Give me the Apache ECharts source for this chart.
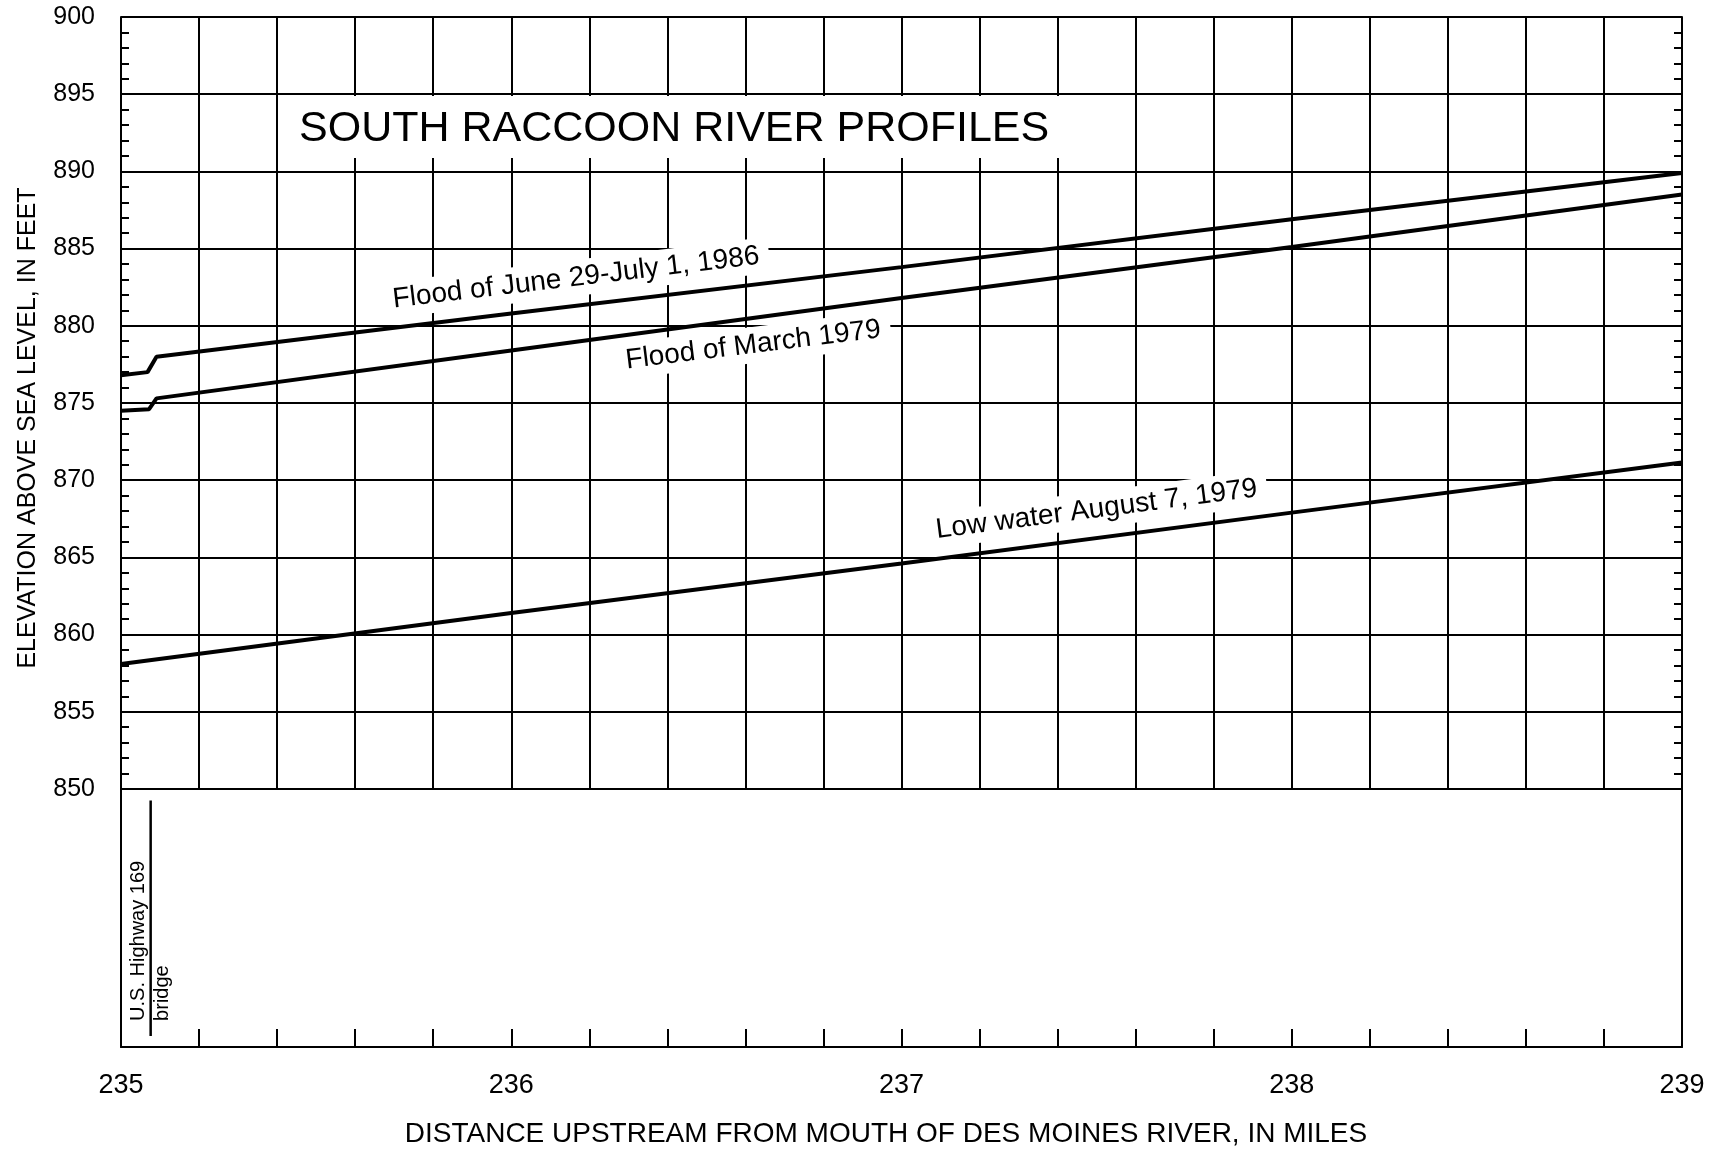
<!DOCTYPE html>
<html>
<head>
<meta charset="utf-8">
<script src="https://cdn.jsdelivr.net/npm/echarts@6/dist/echarts.min.js"></script>
<style>
  html, body { margin: 0; padding: 0; background: #fff; }
  #chart { width: 1727px; height: 1154px; }
</style>
</head>
<body>
<div id="chart"></div>
<script>
// distance upstream from mouth of Des Moines River (miles) / elevation (feet)
const flood1986Miles = [235.0, 235.068, 235.091, 236.0, 237.0, 238.0, 239.0]
const flood1986Elev = [876.8, 877.0, 878.0, 880.8, 883.8, 886.9, 889.9]

const flood1979Miles = [235.0, 235.072, 235.091, 236.0, 237.0, 238.0, 239.0]
const flood1979Elev = [874.5, 874.6, 875.3, 878.4, 881.8, 885.1, 888.5]

const lowWaterMiles = [235.0, 236.0, 237.0, 238.0, 239.0]
const lowWaterElev = [858.1, 861.4, 864.6, 867.9, 871.15]

const xTickLabels = ['235', '236', '237', '238', '239']

// profile labels written along the lines
const profileNames = ['Flood of June 29-July 1, 1986', 'Flood of March 1979', 'Low water August 7, 1979']
const labelMiles = [236.166, 236.62, 237.50]
const labelElev = [883.1, 878.75, 868.1]
const labelAngles = [6.8, 7.0, 7.4]

// bridge marker in the lower box
const bridgeMile = 235.076
const bridgeText = ['U.S. Highway 169', 'bridge']

const font = '"Liberation Sans", Arial, Helvetica, sans-serif'
const ink = '#000'
const toPairs = (xs, ys) => xs.map((x, i) => [x, ys[i]])
const isWhole = v => Math.abs(v - Math.round(v)) < 1e-6
const gridLine = { color: ink, width: 2 }

const chart = echarts.init(document.getElementById('chart'))

const profileLine = (name, xs, ys) => ({
  type: 'line',
  name: name,
  xAxisIndex: 0,
  yAxisIndex: 0,
  z: 3,
  symbol: 'none',
  silent: true,
  lineStyle: { color: ink, width: 4 },
  data: toPairs(xs, ys)
})

const option = {
  animation: false,
  backgroundColor: '#fff',
  title: {
    text: 'SOUTH RACCOON RIVER PROFILES',
    left: 281,
    top: 96,
    padding: [12, 81, 7, 18],
    backgroundColor: '#fff',
    textStyle: { fontFamily: font, fontSize: 43, fontWeight: 'normal', color: ink }
  },
  grid: [
    { left: 121, top: 17, width: 1561, height: 772 },
    { left: 121, top: 789, width: 1561, height: 258 }
  ],
  xAxis: [
    {
      gridIndex: 0, type: 'value', min: 235, max: 239, interval: 0.2,
      axisLine: { show: true, lineStyle: gridLine },
      axisTick: { show: false },
      axisLabel: { show: false },
      splitLine: { show: true, lineStyle: gridLine }
    },
    {
      gridIndex: 1, type: 'value', min: 235, max: 239, interval: 0.2,
      axisLine: { show: true, lineStyle: gridLine },
      axisTick: { show: true, inside: true, length: 18, lineStyle: gridLine },
      axisLabel: {
        show: true, margin: 25, fontSize: 27, color: ink, fontFamily: font,
        formatter: v => isWhole(v) ? xTickLabels[Math.round(v) - 235] : ''
      },
      splitLine: { show: false }
    }
  ],
  yAxis: [
    {
      gridIndex: 0, type: 'value', position: 'left', min: 850, max: 900, interval: 5,
      axisLine: { show: true, lineStyle: gridLine },
      axisTick: { show: false, inside: true },
      minorTick: { show: true, splitNumber: 5, length: 8, lineStyle: gridLine },
      axisLabel: { margin: 26, fontSize: 25, color: ink, fontFamily: font },
      splitLine: { show: true, lineStyle: gridLine }
    },
    {
      gridIndex: 0, type: 'value', position: 'right', min: 850, max: 900, interval: 5,
      axisLine: { show: true, lineStyle: gridLine },
      axisTick: { show: false, inside: true },
      minorTick: { show: true, splitNumber: 5, length: 8, lineStyle: gridLine },
      axisLabel: { show: false },
      splitLine: { show: false }
    },
    {
      gridIndex: 1, type: 'value', position: 'left', min: 0, max: 1,
      axisLine: { show: true, lineStyle: gridLine },
      axisTick: { show: false }, axisLabel: { show: false }, splitLine: { show: false }
    },
    {
      gridIndex: 1, type: 'value', position: 'right', min: 0, max: 1,
      axisLine: { show: true, lineStyle: gridLine },
      axisTick: { show: false }, axisLabel: { show: false }, splitLine: { show: false }
    }
  ],
  series: [
    {
      type: 'scatter',
      xAxisIndex: 0,
      yAxisIndex: 0,
      z: 1,
      silent: true,
      symbolSize: 0,
      itemStyle: { color: ink, opacity: 1 },
      label: {
        show: true,
        position: 'inside',
        formatter: p => p.name,
        fontSize: 28,
        fontFamily: font,
        color: ink,
        textBorderWidth: 0,
        backgroundColor: '#fff',
        padding: [4, 10]
      },
      data: profileNames.map((n, i) => ({
        name: n,
        value: [labelMiles[i], labelElev[i]],
        label: { rotate: labelAngles[i] }
      }))
    },
    profileLine(profileNames[0], flood1986Miles, flood1986Elev),
    profileLine(profileNames[1], flood1979Miles, flood1979Elev),
    profileLine(profileNames[2], lowWaterMiles, lowWaterElev),
    {
      type: 'line',
      xAxisIndex: 1,
      yAxisIndex: 2,
      symbol: 'none',
      silent: true,
      lineStyle: { color: ink, width: 2.5 },
      data: [[bridgeMile, 0.043], [bridgeMile, 0.955]]
    }
  ]
}

chart.setOption(option)

const [bx, by] = chart.convertToPixel({ xAxisIndex: 1, yAxisIndex: 2 }, [bridgeMile, 0.043])

chart.setOption({
  graphic: [
    {
      type: 'text', x: 28, y: 428, rotation: Math.PI / 2,
      style: { text: 'ELEVATION ABOVE SEA LEVEL, IN FEET', font: '25px ' + font, fill: ink, align: 'center', verticalAlign: 'middle' }
    },
    {
      type: 'text', x: 886, y: 1134,
      style: { text: 'DISTANCE UPSTREAM FROM MOUTH OF DES MOINES RIVER, IN MILES', font: '28px ' + font, fill: ink, align: 'center', verticalAlign: 'middle' }
    },
    {
      type: 'text', x: bx - 2.5, y: by - 15, rotation: Math.PI / 2,
      style: { text: bridgeText[0], font: '20px ' + font, fill: ink, align: 'left', verticalAlign: 'bottom' }
    },
    {
      type: 'text', x: bx + 2, y: by - 15, rotation: Math.PI / 2,
      style: { text: bridgeText[1], font: '20px ' + font, fill: ink, align: 'left', verticalAlign: 'top' }
    }
  ]
})

window.addEventListener('resize', () => {
  chart.resize()
})
</script>
</body>
</html>
